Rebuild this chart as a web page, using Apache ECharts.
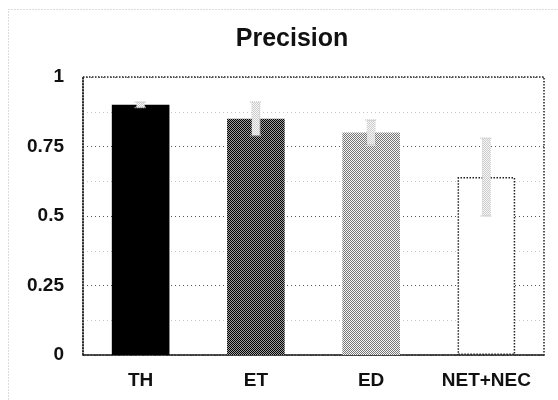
<!DOCTYPE html>
<html>
<head>
<meta charset="utf-8">
<script src="https://cdn.jsdelivr.net/npm/echarts@6/dist/echarts.min.js"></script>
<style>
  html, body { margin: 0; padding: 0; background: #fff; }
  #chart { width: 558px; height: 400px; }
</style>
</head>
<body>
<div id="chart"></div>
<script>
const categories = ['TH', 'ET', 'ED', 'NET+NEC'];
const precision = [0.90, 0.85, 0.80, 0.64];
const errLow = [0.89, 0.79, 0.755, 0.50];
const errHigh = [0.91, 0.91, 0.845, 0.78];
const tickLabels = ['0', '0.25', '0.5', '0.75', '1'];

// Small stippled fills, like halftone printing
function checker(dark, light, size) {
  const c = document.createElement('canvas');
  c.width = size * 2; c.height = size * 2;
  const g = c.getContext('2d');
  g.fillStyle = light; g.fillRect(0, 0, size * 2, size * 2);
  g.fillStyle = dark;
  g.fillRect(0, 0, size, size);
  g.fillRect(size, size, size, size);
  return { image: c, repeat: 'repeat' };
}
const fills = [
  '#000000',
  checker('#000000', '#a0a0a0', 1),
  checker('#777777', '#f4f4f4', 1),
  '#ffffff'
];
const errFill = checker('#cccccc', '#f6f6f6', 1);

const chart = echarts.init(document.getElementById('chart'));
const fontFamily = '"Liberation Sans", Arial, sans-serif';

chart.setOption({
  animation: false,
  title: {
    text: 'Precision',
    left: 287, top: 22, textAlign: 'center',
    textStyle: { fontFamily, fontSize: 25, fontWeight: 'bold', color: '#111' }
  },
  graphic: [{
    type: 'rect',
    shape: { x: 8.5, y: 9.5, width: 600, height: 420 },
    style: { fill: 'none', stroke: '#bbb', lineWidth: 1, lineDash: [1, 2] },
    silent: true
  }],
  grid: {
    left: 83, right: 14, top: 77, bottom: 45,
    show: true, borderColor: '#222', borderWidth: 1.5, borderType: [1.5, 1.5]
  },
  xAxis: {
    type: 'category',
    data: categories,
    axisTick: { show: false },
    axisLine: { lineStyle: { color: '#222', width: 1.5, type: [1.5, 1.5] } },
    axisLabel: {
      interval: 0, hideOverlap: false,
      fontFamily, fontSize: 19, fontWeight: 'bold', color: '#111', margin: 16
    }
  },
  yAxis: {
    type: 'value',
    min: 0, max: 1, interval: 0.125,
    axisLine: { show: true, lineStyle: { color: '#222', width: 1.5, type: [1.5, 1.5] } },
    axisTick: { show: false },
    axisLabel: {
      fontFamily, fontSize: 19, fontWeight: 'bold', color: '#111', margin: 19,
      formatter: v => {
        const i = Math.round(v / 0.25);
        return Math.abs(v - i * 0.25) < 1e-9 ? tickLabels[i] : '';
      }
    },
    splitLine: {
      lineStyle: { color: ['#555', '#c4c4c4'], width: 1, type: [1, 3] }
    }
  },
  series: [
    {
      type: 'bar',
      barWidth: '50%',
      data: precision.map((v, i) => ({
        value: v,
        itemStyle: {
          color: fills[i],
          borderColor: i === 3 ? '#222' : 'transparent',
          borderWidth: i === 3 ? 1.5 : 0,
          borderType: [1.5, 1.5]
        }
      })),
      z: 2
    },
    {
      type: 'custom',
      z: 3,
      data: categories.map((c, i) => [i, errLow[i], errHigh[i]]),
      renderItem: (params, api) => {
        const lo = api.coord([api.value(0), api.value(1)]);
        const hi = api.coord([api.value(0), api.value(2)]);
        const w = 8;
        return {
          type: 'group',
          children: [
            {
              type: 'rect',
              shape: { x: lo[0] - w / 2, y: hi[1], width: w, height: lo[1] - hi[1] },
              style: { fill: errFill, stroke: '#d0d0d0', lineWidth: 1, lineDash: [1, 1] }
            },
            {
              type: 'line',
              shape: { x1: hi[0] - 6, y1: hi[1], x2: hi[0] + 6, y2: hi[1] },
              style: { stroke: '#cccccc', lineWidth: 1.5, lineDash: [1, 1] }
            },
            {
              type: 'line',
              shape: { x1: lo[0] - 6, y1: lo[1], x2: lo[0] + 6, y2: lo[1] },
              style: { stroke: '#cccccc', lineWidth: 1.5, lineDash: [1, 1] }
            }
          ]
        };
      }
    }
  ]
});
</script>
</body>
</html>
